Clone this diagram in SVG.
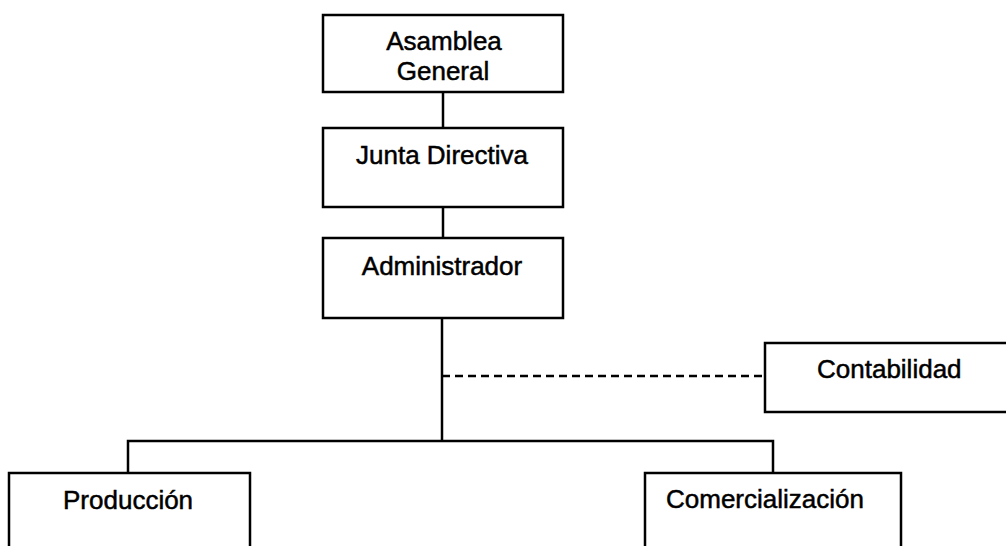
<svg xmlns="http://www.w3.org/2000/svg" width="1006" height="546" viewBox="0 0 1006 546">
<style>
.box{fill:#fff;stroke:#000;stroke-width:2.5}
.ln{fill:none;stroke:#000;stroke-width:2.5}
.dash{fill:none;stroke:#000;stroke-width:2.5;stroke-dasharray:8 5}
text{font-family:"Liberation Sans",Arial,sans-serif;font-size:26px;fill:#000;stroke:#000;stroke-width:0.5}
.c{text-anchor:middle}
</style>
<rect width="1006" height="546" fill="#fff"/>
<g id="connectors">
<line class="ln" x1="443" y1="92" x2="443" y2="128"/>
<line class="ln" x1="443" y1="207" x2="443" y2="238"/>
<line class="ln" x1="442" y1="318" x2="442" y2="441"/>
<line class="dash" x1="442" y1="376" x2="765" y2="376"/>
<polyline class="ln" points="128,473 128,441 773,441 773,473"/>
</g>
<g id="asamblea">
<rect class="box" x="323" y="15" width="240" height="77"/>
<text class="c" x="444" y="50">Asamblea</text>
<text class="c" x="443" y="80">General</text>
</g>
<g id="junta">
<rect class="box" x="323" y="128" width="240" height="79"/>
<text class="c" x="442" y="164">Junta Directiva</text>
</g>
<g id="administrador">
<rect class="box" x="323" y="238" width="240" height="80"/>
<text class="c" x="442" y="275">Administrador</text>
</g>
<g id="contabilidad">
<rect class="box" x="765" y="343" width="260" height="69"/>
<text x="817" y="378">Contabilidad</text>
</g>
<g id="produccion">
<rect class="box" x="9" y="473" width="241" height="90"/>
<text x="63" y="509">Producción</text>
</g>
<g id="comercializacion">
<rect class="box" x="645" y="473" width="256" height="90"/>
<text x="666" y="508">Comercialización</text>
</g>
</svg>
